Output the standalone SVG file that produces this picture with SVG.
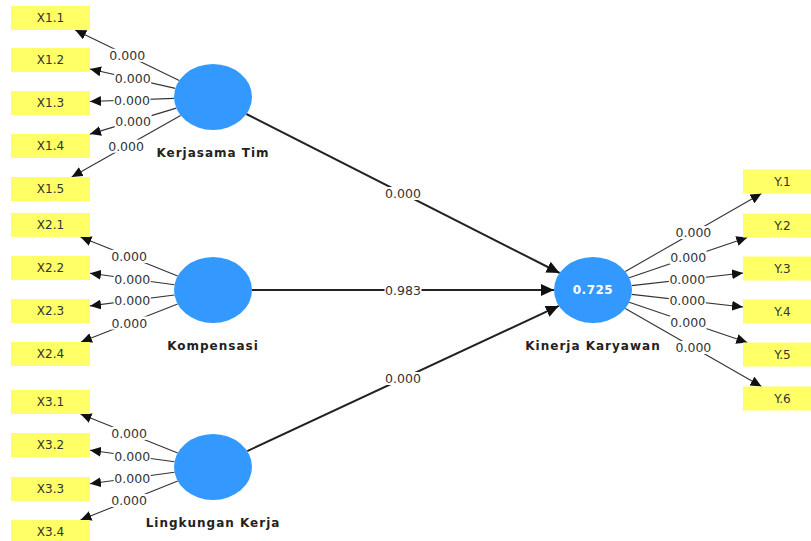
<svg xmlns="http://www.w3.org/2000/svg" width="811" height="541" viewBox="0 0 811 541">
<style>
.ind{fill:#FFFF66;}
.lv{fill:#3399FF;}
.it{font-family:"DejaVu Sans",sans-serif;font-size:12px;fill:#333;text-anchor:middle;dominant-baseline:central;}
.lt{font-family:"DejaVu Sans",sans-serif;font-size:12px;font-weight:bold;fill:#222;text-anchor:middle;letter-spacing:1px;}
.ol{stroke:#333;stroke-width:1.1;fill:none;marker-end:url(#ah);}
.il{stroke:#222;stroke-width:2;fill:none;marker-end:url(#ahb);}
.lb{fill:#fff;}
.pv{font-family:"DejaVu Sans",sans-serif;font-size:12.5px;fill:#333;text-anchor:middle;dominant-baseline:central;}
.r2{font-family:"DejaVu Sans",sans-serif;font-size:12px;font-weight:bold;fill:#fff;text-anchor:middle;dominant-baseline:central;letter-spacing:0.5px;}
</style>
<defs>
<marker id="ah" markerUnits="userSpaceOnUse" markerWidth="12" markerHeight="10" refX="11" refY="5" orient="auto"><path d="M0,0 L11,5 L0,10 Z" fill="#111"/></marker>
<marker id="ahb" markerUnits="userSpaceOnUse" markerWidth="14" markerHeight="12" refX="13" refY="6" orient="auto"><path d="M0,0 L13,6 L0,12 Z" fill="#111"/></marker>
</defs>
<rect width="811" height="541" fill="#fff"/>
<g id="connectors">
<line class="ol" x1="179.2" y1="80.6" x2="75.2" y2="30"/>
<line class="ol" x1="175.3" y1="88.4" x2="90" y2="69"/>
<line class="ol" x1="174" y1="98.4" x2="90" y2="101.5"/>
<line class="ol" x1="176.3" y1="108.1" x2="90" y2="134.1"/>
<line class="ol" x1="180.6" y1="115.4" x2="71.7" y2="177"/>
<line class="ol" x1="177.7" y1="275.9" x2="80.5" y2="237"/>
<line class="ol" x1="174.5" y1="284.8" x2="90" y2="273.3"/>
<line class="ol" x1="174.5" y1="295" x2="90" y2="305.9"/>
<line class="ol" x1="177.6" y1="303.9" x2="81" y2="342"/>
<line class="ol" x1="177.7" y1="452.9" x2="80.5" y2="414"/>
<line class="ol" x1="174.5" y1="461.8" x2="90" y2="450.3"/>
<line class="ol" x1="174.5" y1="472.2" x2="90" y2="483.7"/>
<line class="ol" x1="177.7" y1="481.1" x2="80.5" y2="520"/>
<line class="ol" x1="625.3" y1="271.5" x2="761.5" y2="193.5"/>
<line class="ol" x1="629.2" y1="277.7" x2="747.3" y2="237.5"/>
<line class="ol" x1="631.7" y1="285.6" x2="743" y2="273"/>
<line class="ol" x1="631.7" y1="294.4" x2="743" y2="307"/>
<line class="ol" x1="629.2" y1="302.3" x2="747.3" y2="342.5"/>
<line class="ol" x1="625.3" y1="308.5" x2="761.5" y2="386.5"/>
<line class="il" x1="246.4" y1="114" x2="559.6" y2="273"/>
<line class="il" x1="252" y1="290" x2="554" y2="290"/>
<line class="il" x1="247.2" y1="451.1" x2="558.8" y2="305.9"/>
<g id="labels">
<rect class="lb" x="108.7" y="48.8" width="37" height="13"/><text class="pv" x="127.2" y="55.3">0.000</text>
<rect class="lb" x="114.2" y="72.2" width="37" height="13"/><text class="pv" x="132.7" y="78.7">0.000</text>
<rect class="lb" x="113.5" y="93.5" width="37" height="13"/><text class="pv" x="132" y="100">0.000</text>
<rect class="lb" x="114.6" y="114.6" width="37" height="13"/><text class="pv" x="133.1" y="121.1">0.000</text>
<rect class="lb" x="107.6" y="139.7" width="37" height="13"/><text class="pv" x="126.1" y="146.2">0.000</text>
<rect class="lb" x="110.6" y="249.9" width="37" height="13"/><text class="pv" x="129.1" y="256.4">0.000</text>
<rect class="lb" x="113.7" y="272.5" width="37" height="13"/><text class="pv" x="132.2" y="279">0.000</text>
<rect class="lb" x="113.7" y="294" width="37" height="13"/><text class="pv" x="132.2" y="300.5">0.000</text>
<rect class="lb" x="110.8" y="316.5" width="37" height="13"/><text class="pv" x="129.3" y="323">0.000</text>
<rect class="lb" x="110.6" y="426.9" width="37" height="13"/><text class="pv" x="129.1" y="433.4">0.000</text>
<rect class="lb" x="113.7" y="449.5" width="37" height="13"/><text class="pv" x="132.2" y="456">0.000</text>
<rect class="lb" x="113.7" y="471.5" width="37" height="13"/><text class="pv" x="132.2" y="478">0.000</text>
<rect class="lb" x="110.6" y="494" width="37" height="13"/><text class="pv" x="129.1" y="500.5">0.000</text>
<rect class="lb" x="674.9" y="226" width="37" height="13"/><text class="pv" x="693.4" y="232.5">0.000</text>
<rect class="lb" x="669.7" y="251.1" width="37" height="13"/><text class="pv" x="688.2" y="257.6">0.000</text>
<rect class="lb" x="668.8" y="272.8" width="37" height="13"/><text class="pv" x="687.3" y="279.3">0.000</text>
<rect class="lb" x="668.8" y="294.2" width="37" height="13"/><text class="pv" x="687.3" y="300.7">0.000</text>
<rect class="lb" x="669.7" y="315.9" width="37" height="13"/><text class="pv" x="688.2" y="322.4">0.000</text>
<rect class="lb" x="674.9" y="341" width="37" height="13"/><text class="pv" x="693.4" y="347.5">0.000</text>
<rect class="lb" x="384.5" y="187" width="37" height="13"/><text class="pv" x="403" y="193.5">0.000</text>
<rect class="lb" x="384.5" y="283.5" width="37" height="13"/><text class="pv" x="403" y="290">0.983</text>
<rect class="lb" x="384.5" y="372" width="37" height="13"/><text class="pv" x="403" y="378.5">0.000</text>
</g>
</g>
<g id="X1.1"><rect class="ind" x="11" y="6" width="79" height="24"/><text class="it" x="50.5" y="18">X1.1</text></g>
<g id="X1.2"><rect class="ind" x="11" y="48" width="79" height="24"/><text class="it" x="50.5" y="60">X1.2</text></g>
<g id="X1.3"><rect class="ind" x="11" y="91" width="79" height="24"/><text class="it" x="50.5" y="103">X1.3</text></g>
<g id="X1.4"><rect class="ind" x="11" y="134" width="79" height="24"/><text class="it" x="50.5" y="146">X1.4</text></g>
<g id="X1.5"><rect class="ind" x="11" y="177" width="79" height="24"/><text class="it" x="50.5" y="189">X1.5</text></g>
<g id="X2.1"><rect class="ind" x="11" y="213" width="79" height="24"/><text class="it" x="50.5" y="225">X2.1</text></g>
<g id="X2.2"><rect class="ind" x="11" y="256" width="79" height="24"/><text class="it" x="50.5" y="268">X2.2</text></g>
<g id="X2.3"><rect class="ind" x="11" y="299" width="79" height="24"/><text class="it" x="50.5" y="311">X2.3</text></g>
<g id="X2.4"><rect class="ind" x="11" y="342" width="79" height="24"/><text class="it" x="50.5" y="354">X2.4</text></g>
<g id="X3.1"><rect class="ind" x="11" y="390" width="79" height="24"/><text class="it" x="50.5" y="402">X3.1</text></g>
<g id="X3.2"><rect class="ind" x="11" y="433" width="79" height="24"/><text class="it" x="50.5" y="445">X3.2</text></g>
<g id="X3.3"><rect class="ind" x="11" y="477" width="79" height="24"/><text class="it" x="50.5" y="489">X3.3</text></g>
<g id="X3.4"><rect class="ind" x="11" y="520" width="79" height="24"/><text class="it" x="50.5" y="532">X3.4</text></g>
<g id="Y.1"><rect class="ind" x="743" y="169.5" width="79" height="24"/><text class="it" x="782.5" y="181.5">Y.1</text></g>
<g id="Y.2"><rect class="ind" x="743" y="213.5" width="79" height="24"/><text class="it" x="782.5" y="225.5">Y.2</text></g>
<g id="Y.3"><rect class="ind" x="743" y="256.5" width="79" height="24"/><text class="it" x="782.5" y="268.5">Y.3</text></g>
<g id="Y.4"><rect class="ind" x="743" y="299.5" width="79" height="24"/><text class="it" x="782.5" y="311.5">Y.4</text></g>
<g id="Y.5"><rect class="ind" x="743" y="342.5" width="79" height="24"/><text class="it" x="782.5" y="354.5">Y.5</text></g>
<g id="Y.6"><rect class="ind" x="743" y="386.5" width="79" height="24"/><text class="it" x="782.5" y="398.5">Y.6</text></g>
<g id="KerjasamaTim"><ellipse class="lv" cx="213" cy="97" rx="39" ry="33"/><text class="lt" x="213" y="157">Kerjasama Tim</text></g>
<g id="Kompensasi"><ellipse class="lv" cx="213" cy="290" rx="39" ry="33"/><text class="lt" x="213" y="350">Kompensasi</text></g>
<g id="LingkunganKerja"><ellipse class="lv" cx="213" cy="467" rx="39" ry="33"/><text class="lt" x="213" y="527">Lingkungan Kerja</text></g>
<g id="KinerjaKaryawan"><ellipse class="lv" cx="593" cy="290" rx="39" ry="33"/><text class="r2" x="593" y="290">0.725</text><text class="lt" x="593" y="350">Kinerja Karyawan</text></g>
</svg>
